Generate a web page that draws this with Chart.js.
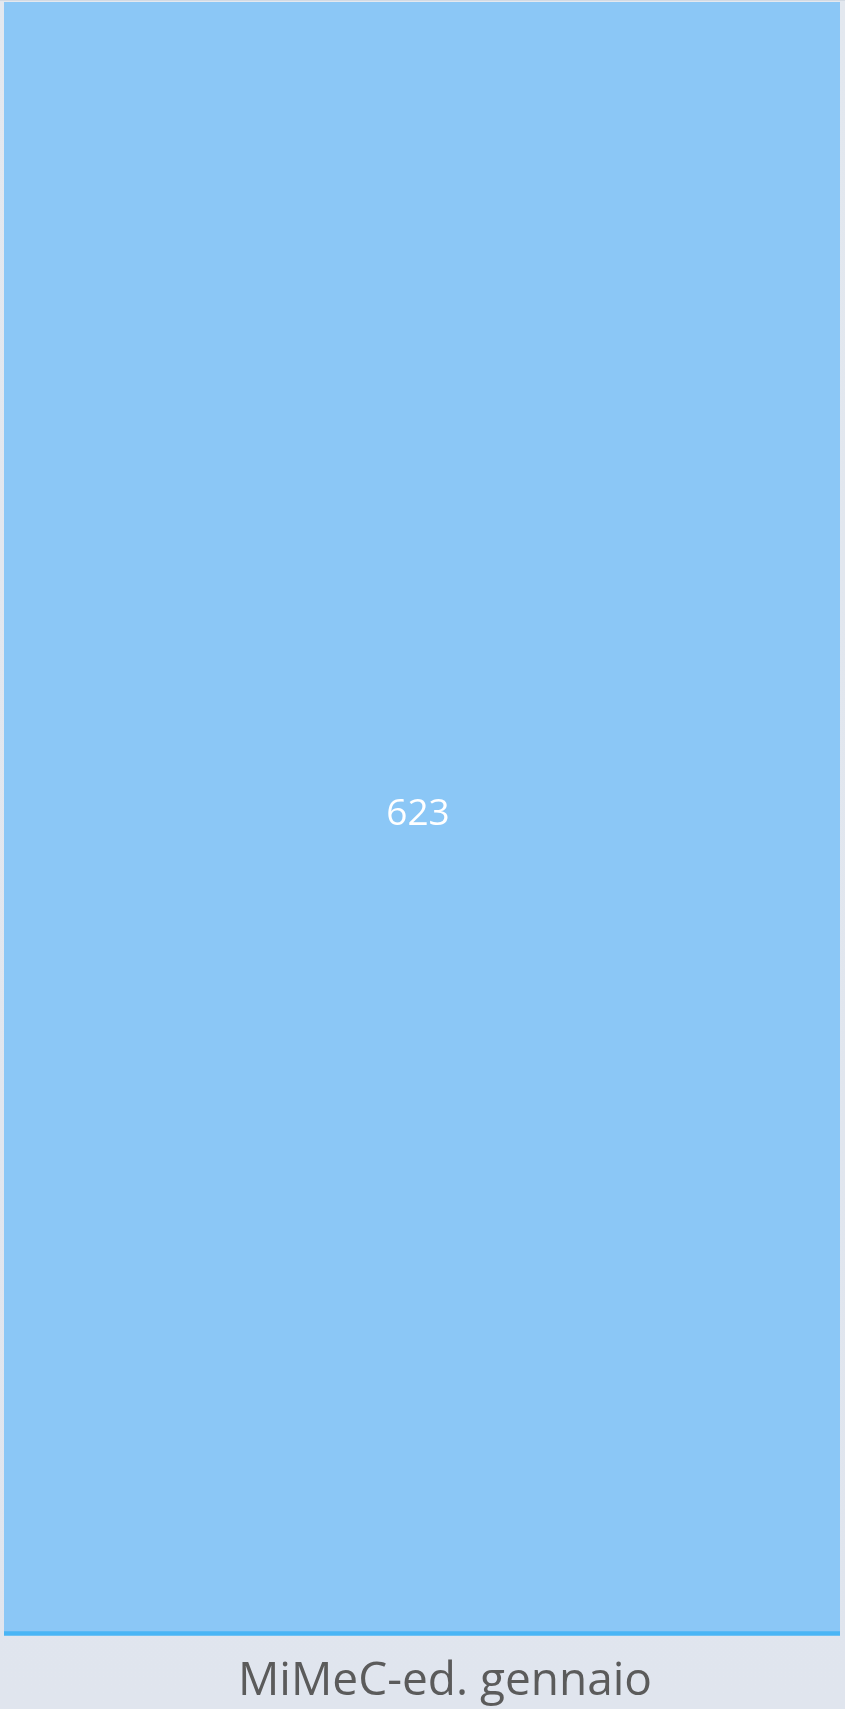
<!DOCTYPE html>
<html>
<head>
<meta charset="utf-8">
<script src="https://cdn.jsdelivr.net/npm/chart.js@4"></script>
<style>
    html, body { margin: 0; padding: 0; overflow: hidden; }
    body {
        width: 845px;
        height: 1709px;
        background: linear-gradient(180deg, #e3e8ef 0%, #e0e5ee 100%);
        border-top: 1px solid #d3dae3;
        box-sizing: border-box;
    }
    canvas { display: block; }
</style>
</head>
<body>
<canvas id="grafico" width="845" height="1726"></canvas>
<script>
const categorias = ['MiMeC-ed. gennaio'];
const valores = [623];
const maxEje = 623;

// Etiqueta del valor centrada en la barra
const etiquetaValor = {
    id: 'etiquetaValor',
    afterDatasetsDraw(chart) {
        const ctx = chart.ctx;
        const meta = chart.getDatasetMeta(0);
        meta.data.forEach((bar, i) => {
            const centro = bar.getCenterPoint();
            ctx.save();
            ctx.fillStyle = '#ffffff';
            ctx.font = '37px "Open Sans", sans-serif';
            ctx.textAlign = 'center';
            ctx.textBaseline = 'middle';
            ctx.fillText(String(valores[i]), centro.x - 4, centro.y - 4);
            ctx.restore();
        });
    }
};

new Chart(document.getElementById('grafico'), {
    type: 'bar',
    data: {
        labels: categorias,
        datasets: [{
            data: valores,
            backgroundColor: '#8bc7f6',
            borderColor: '#4ab5f5',
            borderWidth: { top: 0, left: 0, right: 0, bottom: 5 },
            borderSkipped: false,
            categoryPercentage: 1,
            barPercentage: 1
        }]
    },
    options: {
        responsive: false,
        animation: false,
        layout: { padding: { left: 4, right: 5, top: 1, bottom: 0 } },
        plugins: {
            legend: { display: false },
            tooltip: { enabled: false }
        },
        scales: {
            x: {
                grid: { display: false, drawTicks: false },
                border: { display: false },
                ticks: {
                    color: '#5b5b5b',
                    padding: 18,
                    labelOffset: 23,
                    font: { family: '"Open Sans", sans-serif', size: 46 }
                }
            },
            y: {
                display: false,
                min: 0,
                max: maxEje
            }
        }
    },
    plugins: [etiquetaValor]
});
</script>
</body>
</html>
